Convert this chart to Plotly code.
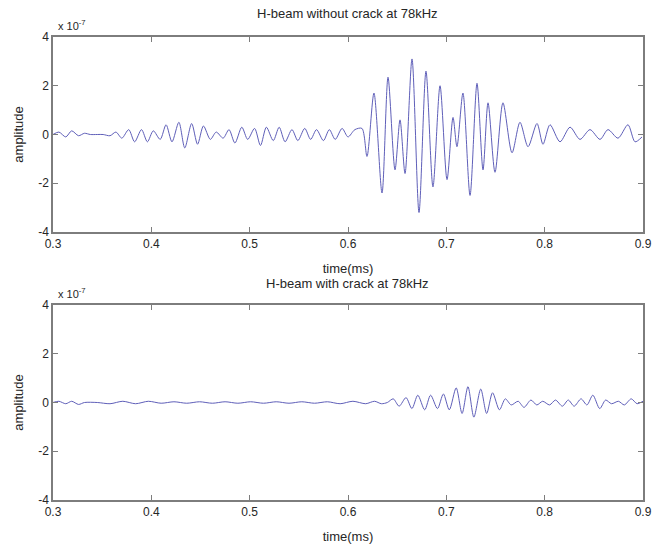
import plotly.graph_objects as go

# ---------------- data ----------------
top_title = "H-beam without crack at 78kHz"
bottom_title = "H-beam with crack at 78kHz"
x_label = "time(ms)"
y_label = "amplitude"
exp_label = "x 10<sup>-7</sup>"

x_ticks = [0.3, 0.4, 0.5, 0.6, 0.7, 0.8, 0.9]
x_tick_text = ["0.3", "0.4", "0.5", "0.6", "0.7", "0.8", "0.9"]
y_ticks = [-4, -2, 0, 2, 4]
y_tick_text = ["-4", "-2", "0", "2", "4"]

# top signal (without crack): extrema times (ms) and amplitudes (x1e-7)
top_t = [0.300, 0.306, 0.313, 0.319, 0.326, 0.332, 0.338, 0.345, 0.351, 0.358,
         0.364, 0.370, 0.377, 0.383, 0.390, 0.396, 0.402, 0.409, 0.415, 0.421,
         0.428, 0.434, 0.441, 0.447, 0.453, 0.460, 0.466, 0.473, 0.479, 0.485,
         0.492, 0.498, 0.505, 0.511, 0.517, 0.524, 0.530, 0.536, 0.543, 0.549,
         0.556, 0.562, 0.568, 0.575, 0.581, 0.587, 0.594, 0.600, 0.607, 0.6142,
         0.6193, 0.6264, 0.6346, 0.6407, 0.6478, 0.6529, 0.6580, 0.6651, 0.6722, 0.6793,
         0.6864, 0.6936, 0.7007, 0.7068, 0.7108, 0.7169, 0.7241, 0.7312, 0.7373, 0.7424,
         0.7495, 0.7576, 0.7668, 0.7749, 0.7831, 0.7922, 0.7983, 0.8054, 0.8156, 0.8258,
         0.8359, 0.8461, 0.8563, 0.8644, 0.8746, 0.8847, 0.8919, 0.8990]
top_a = [0.0, 0.1, -0.1, 0.15, -0.05, 0.05, 0.0, 0.0, 0.0, -0.05,
         0.1, -0.15, 0.2, -0.3, 0.2, -0.3, 0.15, -0.2, 0.4, -0.3,
         0.5, -0.55, 0.45, -0.4, 0.35, -0.2, 0.1, -0.15, 0.2, -0.35,
         0.3, -0.2, 0.25, -0.45, 0.3, -0.25, 0.3, -0.3, 0.2, -0.25,
         0.25, -0.2, 0.2, -0.25, 0.2, -0.2, 0.25, -0.1, 0.2, 0.25,
         -0.9, 1.7, -2.4, 2.35, -1.45, 0.6, -1.6, 3.1, -3.2, 2.6,
         -2.15, 2.0, -1.85, 0.7, -0.5, 1.7, -2.5, 2.1, -1.45, 1.3,
         -1.55, 1.3, -0.75, 0.5, -0.5, 0.45, -0.4, 0.4, -0.3, 0.3,
         -0.2, 0.2, -0.2, 0.2, -0.15, 0.4, -0.3, -0.1]

# bottom signal (with crack)
bot_t = [0.300, 0.306, 0.313, 0.319, 0.326, 0.332, 0.345, 0.358, 0.371, 0.384,
         0.397, 0.410, 0.423, 0.436, 0.449, 0.462, 0.475, 0.488, 0.501, 0.514,
         0.527, 0.540, 0.553, 0.566, 0.579, 0.592, 0.605, 0.618, 0.627, 0.634,
         0.640, 0.646, 0.652, 0.659, 0.665, 0.671, 0.678, 0.684, 0.691, 0.697,
         0.703, 0.710, 0.716, 0.722, 0.728, 0.735, 0.741, 0.747, 0.754, 0.760,
         0.766, 0.773, 0.779, 0.786, 0.792, 0.798, 0.805, 0.811, 0.818, 0.824,
         0.830, 0.837, 0.843, 0.849, 0.856, 0.862, 0.868, 0.875, 0.881, 0.888,
         0.894, 0.900]
bot_a = [0.0, 0.05, -0.05, 0.05, -0.08, 0.0, 0.0, -0.05, 0.05, -0.05,
         0.05, -0.03, 0.03, -0.03, 0.03, -0.03, 0.03, -0.03, 0.03, -0.03,
         0.03, -0.03, 0.03, -0.03, 0.03, -0.05, 0.05, -0.05, 0.05, -0.05,
         0.0, 0.15, -0.15, 0.2, -0.25, 0.3, -0.3, 0.3, -0.25, 0.35,
         -0.3, 0.6, -0.45, 0.65, -0.6, 0.55, -0.45, 0.4, -0.3, 0.15,
         -0.1, 0.05, -0.2, 0.1, -0.1, 0.05, -0.1, 0.1, -0.15, 0.1,
         -0.15, 0.15, -0.1, 0.3, -0.25, 0.1, -0.05, 0.05, -0.1, 0.15,
         -0.05, 0.05]

# ---------------- figure ----------------
line_color = "rgb(95,95,185)"
axis_color = "rgb(125,125,125)"
text_color = "#262626"
font_family = "Liberation Sans, Arial, sans-serif"

fig = go.Figure()
fig.add_trace(go.Scatter(x=top_t, y=top_a, mode="lines", line=dict(color=line_color, width=1, shape="spline", smoothing=0.8),
                         xaxis="x", yaxis="y", showlegend=False, hoverinfo="skip"))
fig.add_trace(go.Scatter(x=bot_t, y=bot_a, mode="lines", line=dict(color=line_color, width=1, shape="spline", smoothing=0.8),
                         xaxis="x2", yaxis="y2", showlegend=False, hoverinfo="skip"))

xd = [53 / 660, 643 / 660]
top_dom = [1 - 232 / 546, 1 - 37 / 546]
bot_dom = [1 - 500 / 546, 1 - 305 / 546]

common_x = dict(range=[0.3, 0.9], tickvals=x_ticks, ticktext=x_tick_text, showgrid=False, zeroline=False,
                showline=True, linecolor=axis_color, linewidth=1.5, mirror="ticks", ticks="inside",
                ticklen=5, tickcolor=axis_color, tickfont=dict(size=12, color=text_color, family=font_family),
                domain=xd, automargin=False,
                title=dict(text=x_label, font=dict(size=13, color=text_color, family=font_family), standoff=14))
common_y = dict(range=[-4, 4], tickvals=y_ticks, ticktext=y_tick_text, showgrid=False, zeroline=False,
                showline=True, linecolor=axis_color, linewidth=1.5, mirror="ticks", ticks="inside",
                ticklen=5, tickcolor=axis_color, tickfont=dict(size=12, color=text_color, family=font_family),
                automargin=False,
                title=dict(text=y_label, font=dict(size=13, color=text_color, family=font_family), standoff=12))

anns = [
    (top_title, 348, 13, "center", 13),
    (bottom_title, 348, 283, "center", 13),
    (exp_label, 56, 25, "left", 11),
    (exp_label, 56, 293, "left", 11),
]

fig.update_layout(
    width=660, height=546,
    margin=dict(l=0, r=0, t=0, b=0),
    paper_bgcolor="white", plot_bgcolor="white",
    xaxis=dict(common_x, anchor="y"),
    yaxis=dict(common_y, domain=top_dom, anchor="x"),
    xaxis2=dict(common_x, anchor="y2"),
    yaxis2=dict(common_y, domain=bot_dom, anchor="x2"),
    annotations=[
        dict(text=t, x=px / 660, y=1 - py / 546, xref="paper", yref="paper", showarrow=False,
             xanchor=xa, yanchor="middle", font=dict(size=fs, color=text_color, family=font_family))
        for (t, px, py, xa, fs) in anns
    ],
)

fig.write_html("out.html", config={"displayModeBar": False},
               post_script="document.body.style.margin='0';document.body.style.overflow='hidden';")
